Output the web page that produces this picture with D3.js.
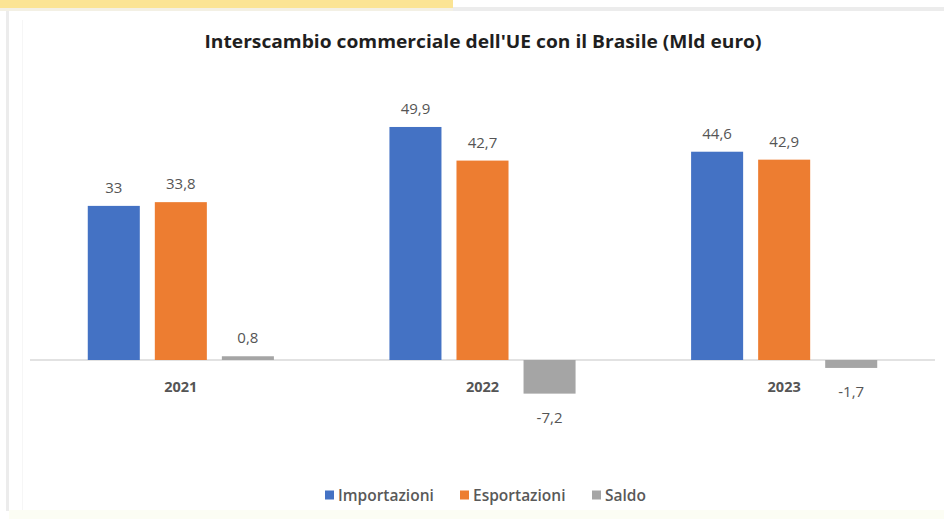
<!DOCTYPE html>
<html>
<head>
<meta charset="utf-8">
<script src="https://cdn.jsdelivr.net/npm/d3@7"></script>
<style>
  html, body { margin: 0; padding: 0; background: #fff; }
  svg { display: block; font-family: "Open Sans", "Noto Sans", sans-serif; }
</style>
</head>
<body>
<svg id="chart" width="944" height="519"></svg>
<script>
const years = ['2021', '2022', '2023'];
const series = ['Importazioni', 'Esportazioni', 'Saldo'];
const importazioni = [33, 49.9, 44.6];
const esportazioni = [33.8, 42.7, 42.9];
const saldo = [0.8, -7.2, -1.7];
const colors = ['#4472c4', '#ed7d31', '#a5a5a5'];
const title = "Interscambio commerciale dell'UE con il Brasile (Mld euro)";

const values = [importazioni, esportazioni, saldo];
const W = 944, H = 519;
const svg = d3.select('#chart');

// frame bits from the screenshot
svg.append('rect').attr('x', 0).attr('y', 0).attr('width', 453).attr('height', 8).attr('fill', '#fbe494');
svg.append('rect').attr('x', 453).attr('y', 7).attr('width', W - 453).attr('height', 4).attr('fill', '#ececec');
svg.append('rect').attr('x', 0).attr('y', 8).attr('width', 453).attr('height', 3).attr('fill', '#f3f0e4');
svg.append('rect').attr('x', 6).attr('y', 11).attr('width', 3).attr('height', 500).attr('fill', '#ececec');
svg.append('rect').attr('x', 22).attr('y', 20).attr('width', 1).attr('height', 490).attr('fill', '#f6f6f6');
svg.append('rect').attr('x', 9).attr('y', 510).attr('width', W - 9).attr('height', 9).attr('fill', '#fcfdf4');

svg.append('text')
  .attr('x', 483).attr('y', 48)
  .attr('text-anchor', 'middle')
  .attr('font-size', 17).attr('font-weight', 700)
  .attr('fill', '#1f1f1f')
  .attr('textLength', 557).attr('lengthAdjust', 'spacingAndGlyphs')
  .text(title);

const x0 = d3.scaleBand().domain(years).range([30, 935]).paddingInner(0.383).paddingOuter(0.1915);
const x1 = d3.scaleBand().domain(series).range([0, x0.bandwidth()]).paddingInner(0.224);
const y = d3.scaleLinear().domain([0, 50]).range([360, 126.5]);

const fmt = v => String(v).replace('.', ',');

// axis line
svg.append('line')
  .attr('x1', 30).attr('x2', 935)
  .attr('y1', y(0)).attr('y2', y(0))
  .attr('stroke', '#d9d9d9').attr('stroke-width', 1.5);

const data = [];
years.forEach((yr, i) => {
  series.forEach((s, j) => data.push({ year: yr, series: s, value: values[j][i], idx: j }));
});

const g = svg.append('g');
g.selectAll('rect.bar')
  .data(data)
  .enter().append('rect')
  .attr('class', 'bar')
  .attr('x', d => x0(d.year) + x1(d.series))
  .attr('width', x1.bandwidth())
  .attr('y', d => Math.min(y(d.value), y(0)))
  .attr('height', d => Math.abs(y(d.value) - y(0)))
  .attr('fill', d => colors[d.idx]);

g.selectAll('text.lbl')
  .data(data)
  .enter().append('text')
  .attr('class', 'lbl')
  .attr('x', d => x0(d.year) + x1(d.series) + x1.bandwidth() / 2)
  .attr('y', d => d.value >= 0 ? y(d.value) - 13 : y(d.value) + 29)
  .attr('text-anchor', 'middle')
  .attr('font-size', 15)
  .attr('fill', '#555555')
  .text(d => fmt(d.value));

// category labels
svg.selectAll('text.year')
  .data(years)
  .enter().append('text')
  .attr('class', 'year')
  .attr('x', d => x0(d) + x0.bandwidth() / 2)
  .attr('y', 392)
  .attr('text-anchor', 'middle')
  .attr('font-size', 14.5).attr('font-weight', 700)
  .attr('fill', '#555555')
  .text(d => d);

// legend
const legendX = [325, 460, 592];
const leg = svg.selectAll('g.leg')
  .data(series)
  .enter().append('g')
  .attr('class', 'leg')
  .attr('transform', (d, i) => `translate(${legendX[i]},495)`);
leg.append('rect')
  .attr('x', 0).attr('y', -4.5).attr('width', 9).attr('height', 9)
  .attr('fill', (d, i) => colors[i]);
leg.append('text')
  .attr('x', 13).attr('y', 5.5)
  .attr('font-size', 15.5).attr('font-weight', 600)
  .attr('fill', '#595959')
  .text(d => d);
</script>
</body>
</html>
